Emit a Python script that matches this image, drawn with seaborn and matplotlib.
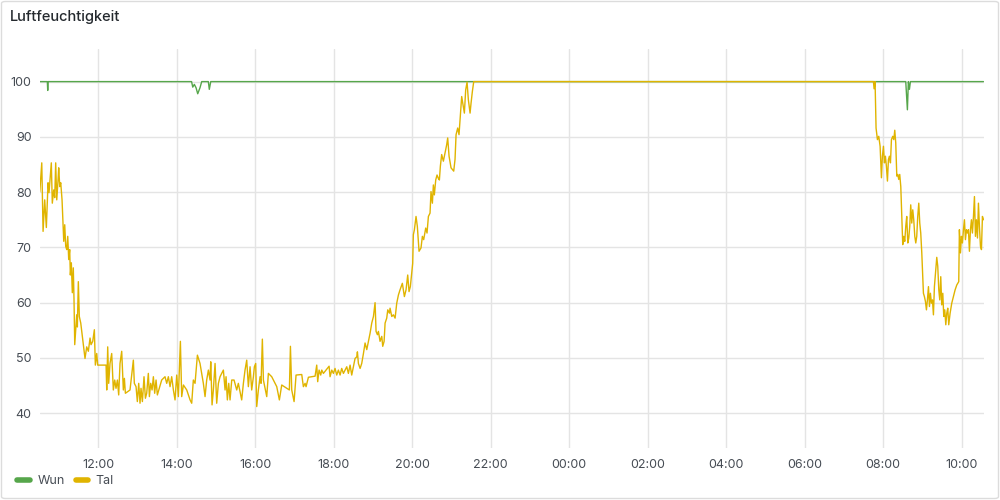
import pandas as pd
import seaborn as sns
import matplotlib.pyplot as plt
import matplotlib.dates as mdates
from matplotlib.lines import Line2D
from matplotlib.patches import FancyBboxPatch

# minutes after 10:30, values in %
tal_min_morning = [1, 4, 6, 8.5, 11, 13.6, 15.1, 18.6, 20.1, 22.3, 23.8, 25.3, 26.9, 28.9, 29.9,
                   31.5, 33, 35, 36.5, 37.6, 39.1, 40.6, 42.2, 43.7, 45.2, 46.7, 47.7, 49.2, 50.7,
                   52.2, 53.3, 54.4, 55.9, 57.4, 58.4, 59.9, 61.4, 63.6, 70.1, 72.7, 75.2, 77.8,
                   79.3, 81.9, 84.4, 85.9, 88, 89.5, 102.3]
tal_val_morning = [80.1, 85.3, 72.9, 78.6, 73.6, 81.7, 79.9, 85.3, 78, 80.4, 79, 85.3, 78.6, 82.2, 84.4,
                   81, 81.7, 78.6, 74.1, 71.1, 74.1, 70.2, 69.6, 72, 67.8, 69.6, 65, 67.2, 61.8,
                   66.3, 60.5, 52.4, 55.1, 57.8, 55.6, 63.8, 57.5, 56.3, 49.9, 52.0, 51.2, 53.6,
                   52.4, 53.0, 55.1, 48.7, 50.8, 48.7, 48.7]

tal_min_noon = [103.3, 104.8, 106.3, 108.3, 110.9, 113.4, 115.5, 117.5, 119.6, 121.6, 123.6, 126.2,
                128.7, 130.3, 131.8, 138.9, 144, 145.5, 148.1, 150.1, 152.2, 154.2, 155.7, 157.8,
                160.3, 162.4, 164.4, 166.9, 168.5, 170.5, 172.6, 174.6, 176.6, 178.7, 180.7, 187.3,
                192.4, 195, 197.5, 200.1, 202.6, 205.2, 207.7, 210.3, 212.8, 215.9, 217.9, 220.5,
                225.6, 230.7, 233.2, 235.7, 238.3, 241.9, 245.9, 251, 253.6, 256.1, 258.7, 261.2,
                262.3, 264.3, 266.3, 268.9, 271.4, 274, 276.5, 281.6, 284.2, 285.7, 287.7, 289.8,
                291.8, 294.4, 297.9, 302, 304.5, 309.6, 312.2, 314.7, 317.3, 319.8, 322.4, 324.9,
                327.5, 329, 331, 332.6, 335.1, 337.7, 339.2, 341.2, 342.8, 345.3, 347.9, 350.4, 355.5]
tal_val_noon = [44.2, 52.0, 45.4, 49.0, 50.8, 44.2, 46.0, 44.5, 46.0, 43.3, 49.0, 51.2,
                44.2, 46.3, 43.6, 44.2, 49.6, 45.4, 44.8, 42.1, 45.4, 41.8, 44.5, 42.1,
                46.6, 42.7, 43.6, 47.2, 43.0, 45.4, 44.2, 46.6, 43.6, 46.0, 43.3, 46.0,
                46.6, 45.4, 46.6, 44.8, 46.6, 44.2, 42.4, 46.9, 43.0, 53.0, 43.0, 45.1,
                44.2, 42.4, 41.8, 46.0, 45.4, 50.5, 49.0, 45.4, 43.0, 46.0, 47.8, 46.0,
                49.3, 41.5, 44.2, 49.0, 41.8, 45.4, 46.6, 47.8, 44.2, 46.6, 42.4, 45.4,
                42.4, 46.0, 46.0, 44.2, 45.4, 42.4, 45.4, 47.8, 49.6, 44.8, 48.4, 44.2,
                46.6, 48.4, 49.0, 41.2, 44.2, 46.6, 45.4, 53.4, 46.0, 44.5, 43.0, 47.2, 46.6]

tal_min_evening = [363.2, 367.2, 370.8, 378.5, 382.5, 384.1, 386.1, 389.7, 392.7, 401.4, 403.9, 406.5,
                   408, 411.6, 421.8, 424.3, 425.8, 427.9, 430.4, 432, 434.5, 443.2, 444.7, 447.3,
                   449.8, 452.3, 454.9, 457.4, 460, 462.5, 465.1, 470.2, 472.7, 475.3, 477.8, 480.4,
                   482.9, 485.5, 486.5, 488, 490.6, 493.1, 495.7, 498.2, 500.8, 503.3, 505.9, 508.4,
                   511, 513.5, 515, 517.1, 518.6, 521.1, 523.7, 525.2, 527.3, 528.8, 531.3, 532.9,
                   535.4, 536.4, 539, 541.5, 544.1, 546.6, 549.2]
tal_val_evening = [44.8, 42.4, 45.1, 44.5, 44.2, 52.1, 44.2, 42.1, 46.9, 47.0, 44.8, 45.4,
                   44.8, 46.5, 46.7, 48.7, 45.7, 47.8, 46.9, 47.8, 47.2, 48.5, 46.6, 47.8,
                   47.2, 48.1, 46.9, 47.8, 46.9, 48.1, 47.2, 48.4, 47.2, 48.7, 46.9, 48.4,
                   49.9, 50.2, 51.1, 49.0, 48.1, 49.0, 50.8, 52.7, 51.5, 53.0, 54.5, 56.3,
                   57.5, 60.0, 54.8, 54.2, 54.8, 53.0, 53.9, 52.1, 53.0, 56.3, 57.2, 58.7,
                   58.1, 59.0, 57.5, 57.8, 57.2, 59.9, 61.4]

tal_min_night = [551.6, 555.2, 558.3, 560.8, 563.4, 565.4, 567.4, 569.5, 571, 572, 573.6, 576.1,
                 578.1, 580.7, 583.7, 585.8, 587.8, 590.9, 592.9, 595, 597.5, 599, 601.1, 602.6,
                 604.1, 606.2, 608.2, 610.2, 611.8, 613.3, 615.3, 617.9, 620.4, 623, 624.5, 626.6,
                 629.6, 631.7, 633.7, 635.7, 637.3, 639.8, 641.8, 643.4, 645.9, 648, 650, 652,
                 654.1, 656.1, 658.7, 660.2, 662.2, 664.3, 1275.3]
tal_val_night = [62.3, 63.5, 61.1, 62.3, 65.0, 62.0, 62.9, 65.3, 67.1, 72.3, 73.2, 75.6,
                 73.8, 69.3, 69.9, 72.0, 71.4, 73.5, 72.6, 75.6, 76.2, 80.1, 78.0, 81.3,
                 79.5, 82.2, 83.1, 82.5, 82.2, 84.7, 86.8, 85.6, 87.1, 88.6, 89.8, 86.5,
                 84.4, 84.1, 83.8, 85.9, 90.4, 91.6, 90.4, 93.1, 97.3, 95.8, 94.3, 98.5,
                 99.9, 96.7, 94.3, 96.1, 98.2, 100, 100]

tal_min_nextday = [1276.3, 1277.8, 1279.3, 1281.4, 1283.4, 1285.5, 1287.5, 1289, 1290.6, 1292.1,
                   1293.6, 1295.1, 1296.7, 1298.2, 1299.7, 1301.3, 1302.8, 1304.8, 1306.4, 1307.9,
                   1309.4, 1311, 1312.5, 1314, 1315.5, 1317.1, 1318.6, 1320.1, 1321.6, 1323.2,
                   1324.7, 1326.2, 1327.8, 1329.3, 1330.8, 1332.3, 1333.9, 1335.4, 1336.9, 1338.5,
                   1340, 1341.5, 1343, 1344.6, 1346.1, 1347.6, 1349.2, 1351.7, 1353.2, 1354.8,
                   1356.3, 1357.8, 1359.4, 1360.9, 1362.4, 1363.9, 1365.5, 1367, 1368.5, 1370.1,
                   1372.1, 1373.6, 1375.2, 1376.7, 1378.2, 1379.7, 1381.3, 1382.8, 1384.3, 1385.9,
                   1387.4, 1388.9, 1390.4, 1392.5, 1395, 1397.6, 1400.1, 1402.7, 1405.7, 1406.7,
                   1408.3, 1409.8, 1411.3, 1412.9, 1414.4, 1415.9, 1417.5, 1419, 1420.5, 1422,
                   1423.6, 1425.1, 1426.6, 1428.2, 1429.7, 1431.2, 1432.7, 1434.3, 1435.8, 1437.3,
                   1438.9, 1440.4, 1441.9, 1443.5]
tal_val_nextday = [98.7, 100, 91.6, 89.5, 90.1, 88.3, 82.6, 86.5, 88.3, 85.3,
                   86.5, 84.7, 82.0, 85.9, 86.5, 85.3, 89.5, 90.1, 89.5, 91.2,
                   88.9, 82.9, 83.2, 82.3, 83.2, 81.0, 75.6, 70.5, 72.0, 71.1,
                   73.8, 75.6, 70.8, 71.7, 73.8, 77.7, 74.4, 76.8, 75.0, 72.0,
                   70.8, 72.0, 75.6, 78.0, 74.4, 72.6, 69.0, 61.7, 61.1, 60.2,
                   58.7, 60.5, 62.9, 59.3, 61.7, 59.9, 60.5, 57.8, 62.9, 65.3,
                   68.2, 66.6, 62.3, 60.5, 64.7, 59.6, 61.7, 57.5, 58.7, 56.0,
                   58.1, 59.0, 56.0, 58.1, 59.9, 61.1, 62.3, 63.2, 63.8, 73.2,
                   69.0, 72.0, 70.8, 73.2, 75.0, 71.4, 73.2, 72.6, 73.2, 69.3,
                   73.2, 75.0, 72.6, 75.6, 79.2, 72.0, 75.0, 71.7, 78.0, 73.8,
                   70.2, 69.6, 75.6, 75.0]

wun_min = [1, 12.5, 13.1, 13.7, 233, 234.8, 237.2, 239.8, 242.4, 245.9, 248.5, 258.6, 260.1,
           262.3, 1324.7, 1327.2, 1328.7, 1330.3, 1331.8, 1443.5]
wun_val = [100, 100, 98.4, 100, 100, 99.0, 99.5, 98.9, 97.8, 98.9, 100, 100, 98.6,
           100, 100, 94.9, 100, 98.6, 100, 100]

base = pd.Timestamp("2024-05-01 10:30")

tal_min = tal_min_morning + tal_min_noon + tal_min_evening + tal_min_night + tal_min_nextday
tal_val = tal_val_morning + tal_val_noon + tal_val_evening + tal_val_night + tal_val_nextday
tal = pd.DataFrame({"time": base + pd.to_timedelta(tal_min, unit="min"), "value": tal_val})
wun = pd.DataFrame({"time": base + pd.to_timedelta(wun_min, unit="min"), "value": wun_val})

sns.set_style("white")
plt.rcParams["font.family"] = ["Inter", "DejaVu Sans"]

green = "#56A64B"
yellow = "#E0B400"
text_col = "#464c54"

fig = plt.figure(figsize=(10, 5), dpi=100)
ax = fig.add_axes([0.04, 0.104, 0.944, 0.798])

sns.lineplot(data=wun, x="time", y="value", color=green, linewidth=1, ax=ax)
sns.lineplot(data=tal, x="time", y="value", color=yellow, linewidth=1, ax=ax)

ax.set_xlim(base + pd.Timedelta(minutes=1.3), base + pd.Timedelta(minutes=1444.3))
ax.set_ylim(33.7, 105.9)
ax.set_yticks([40, 50, 60, 70, 80, 90, 100])
ax.xaxis.set_major_locator(mdates.HourLocator(byhour=range(0, 24, 2)))
ax.xaxis.set_major_formatter(mdates.DateFormatter("%H:%M"))
ax.set_xlabel("")
ax.set_ylabel("")
ax.grid(True, color="#e4e4e4", linewidth=1)
ax.set_axisbelow(True)
for s in ax.spines.values():
    s.set_visible(False)
ax.tick_params(axis="both", length=0, labelsize=9, colors=text_col)
ax.tick_params(axis="x", pad=8)
ax.tick_params(axis="y", pad=6)

# panel frame + title
fig.patches.append(FancyBboxPatch((0.0015, 0.003), 0.997, 0.994,
                                  boxstyle="round,pad=0,rounding_size=0.004",
                                  transform=fig.transFigure, fill=False,
                                  edgecolor="#dcdcdc", linewidth=1))
fig.text(0.01, 0.966, "Luftfeuchtigkeit", fontsize=10.5, fontweight=500,
         color="#24292e", va="center", ha="left")

handles = [Line2D([0], [0], color=green, linewidth=4, solid_capstyle="round"),
           Line2D([0], [0], color=yellow, linewidth=4, solid_capstyle="round")]
fig.legend(handles, ["Wun", "Tal"], loc="center left", bbox_to_anchor=(0.006, 0.038),
           ncol=2, frameon=False, fontsize=9, handlelength=1.0, handletextpad=0.6,
           columnspacing=0.9, labelcolor=text_col)

fig.savefig("out.png", dpi=100)
